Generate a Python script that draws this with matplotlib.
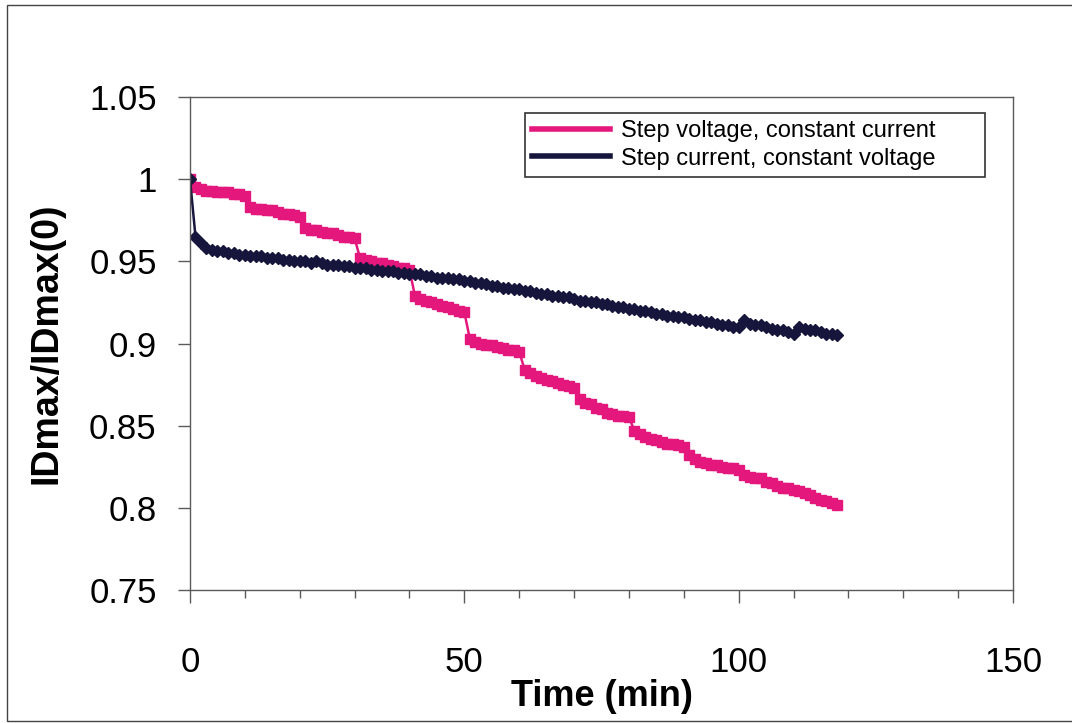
import matplotlib as mpl
mpl.use('Agg')
import matplotlib.pyplot as plt
from matplotlib.patches import Rectangle
from matplotlib.ticker import MultipleLocator

plt.rcParams['font.family'] = ['Liberation Sans', 'DejaVu Sans']

# time in minutes, one reading per minute
time_min = list(range(0, 119))

# Step voltage, constant current
step_voltage = [
    1.000,
    0.995, 0.994, 0.993, 0.993, 0.992, 0.992, 0.992, 0.991, 0.991, 0.990,
    0.983, 0.982, 0.982, 0.981, 0.981, 0.980, 0.979, 0.979, 0.978, 0.977,
    0.970, 0.969, 0.969, 0.968, 0.967, 0.967, 0.966, 0.965, 0.965, 0.964,
    0.952, 0.951, 0.950, 0.949, 0.949, 0.948, 0.947, 0.946, 0.946, 0.945,
    0.929, 0.927, 0.926, 0.925, 0.924, 0.923, 0.922, 0.921, 0.920, 0.919,
    0.903, 0.901, 0.900, 0.899, 0.899, 0.898, 0.897, 0.896, 0.896, 0.895,
    0.884, 0.882, 0.880, 0.879, 0.878, 0.877, 0.876, 0.875, 0.874, 0.873,
    0.866, 0.864, 0.863, 0.861, 0.860, 0.858, 0.857, 0.856, 0.856, 0.855,
    0.847, 0.845, 0.843, 0.842, 0.841, 0.840, 0.839, 0.839, 0.838, 0.837,
    0.832, 0.830, 0.828, 0.827, 0.826, 0.826, 0.825, 0.824, 0.824, 0.823,
    0.820, 0.819, 0.818, 0.818, 0.816, 0.815, 0.813, 0.812, 0.812, 0.811,
    0.810, 0.809, 0.808, 0.806, 0.805, 0.804, 0.803, 0.802,
]

# Step current, constant voltage
step_current = [
    1.000,
    0.965, 0.961, 0.958, 0.957, 0.956, 0.956, 0.955, 0.955, 0.954, 0.954,
    0.953, 0.953, 0.953, 0.952, 0.952, 0.952, 0.951, 0.951, 0.950, 0.950,
    0.950, 0.949, 0.950, 0.949, 0.948, 0.948, 0.948, 0.947, 0.947, 0.946,
    0.946, 0.946, 0.945, 0.945, 0.944, 0.944, 0.944, 0.943, 0.943, 0.942,
    0.942, 0.942, 0.941, 0.941, 0.940, 0.940, 0.940, 0.939, 0.939, 0.938,
    0.938, 0.937, 0.937, 0.936, 0.935, 0.935, 0.934, 0.934, 0.933, 0.933,
    0.932, 0.932, 0.931, 0.930, 0.930, 0.929, 0.929, 0.928, 0.928, 0.927,
    0.926, 0.926, 0.925, 0.925, 0.924, 0.924, 0.923, 0.922, 0.922, 0.921,
    0.921, 0.920, 0.920, 0.919, 0.918, 0.918, 0.917, 0.917, 0.916, 0.916,
    0.915, 0.914, 0.914, 0.913, 0.913, 0.912, 0.911, 0.911, 0.910, 0.910,
    0.914, 0.912, 0.911, 0.911, 0.910, 0.909, 0.908, 0.908, 0.907, 0.906,
    0.910, 0.909, 0.908, 0.908, 0.907, 0.906, 0.906, 0.905,
]

pink = '#e3177c'
navy = '#16163c'
spine_grey = '#5a5a5a'

fig = plt.figure(figsize=(10.72, 7.23), dpi=100)
ax = fig.add_axes([190 / 1072, 1 - 590 / 723, 823 / 1072, 493 / 723])

ax.plot(time_min, step_voltage, color=pink, lw=1.8, marker='s', ms=7,
        mec=pink, label='Step voltage, constant current')
ax.plot(time_min, step_current, color=navy, lw=1.8, marker='D', ms=5.8,
        mec=navy, label='Step current, constant voltage')

ax.set_xlim(0, 150)
ax.set_ylim(0.75, 1.05)
ax.xaxis.set_major_locator(MultipleLocator(50))
ax.xaxis.set_minor_locator(MultipleLocator(10))
ax.yaxis.set_major_locator(MultipleLocator(0.05))
ax.set_yticklabels([f'{v:g}' for v in ax.get_yticks()])
ax.set_xticks([0, 50, 100, 150])

for s in ax.spines.values():
    s.set_color(spine_grey)
    s.set_linewidth(1)

ax.tick_params(axis='y', length=9, width=1, color=spine_grey, pad=15, labelsize=25)
ax.tick_params(axis='x', which='major', length=9, width=1, color=spine_grey,
               pad=31, labelsize=25)
ax.tick_params(axis='x', which='minor', length=6, width=1, color=spine_grey)

ax.set_xlabel('Time (min)', fontsize=26, fontweight='bold', labelpad=0)
ax.set_ylabel('IDmax/IDmax(0)', fontsize=27, fontweight='bold', labelpad=18)

leg = ax.legend(loc='upper left', bbox_to_anchor=(0.407, 0.836, 0.559, 0.132),
                mode='expand', fontsize=17, handlelength=3.3, handletextpad=0.45,
                borderpad=0.3, labelspacing=0.25, borderaxespad=0,
                fancybox=False, frameon=True)
leg.get_frame().set_edgecolor('black')
leg.get_frame().set_linewidth(1.2)
for h in leg.get_lines():
    h.set_marker('')
    h.set_linewidth(4)

# outer chart border
fig.patches.append(Rectangle((7 / 1072, 2 / 723), 1.2, 716 / 723,
                             transform=fig.transFigure, fill=False,
                             edgecolor='#444444', lw=1, clip_on=False))

fig.savefig('out.png', dpi=100)
plt.close(fig)
